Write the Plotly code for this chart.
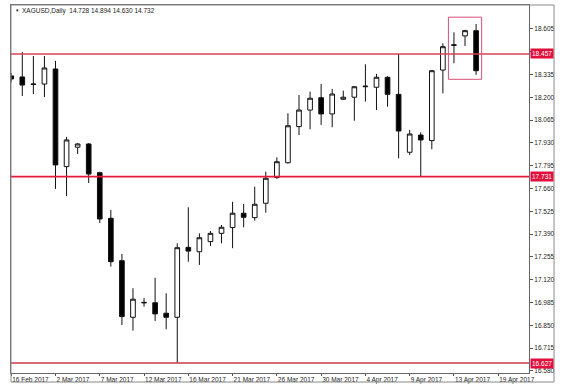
import plotly.graph_objects as go

# ---- data (bar index -1 is the partly hidden first bar) ----
bar_index = list(range(-1, 42))
opens = [18.327, 18.321, 18.276, 18.279, 18.368, 17.790, 17.905, 17.924, 17.754, 17.484,
         17.233, 16.898, 16.983, 16.984, 16.922, 16.898, 17.312, 17.286, 17.346, 17.395,
         17.429, 17.514, 17.488, 17.573, 17.725, 17.813, 18.027, 18.125, 18.198, 18.102,
         18.189, 18.201, 18.263, 18.260, 18.319, 18.218, 17.875, 17.977, 17.944, 18.362,
         18.508, 18.564, 18.595]
highs = [18.345, 18.469, 18.445, 18.445, 18.416, 17.966, 17.930, 17.930, 17.760, 17.533,
         17.273, 17.070, 17.012, 17.132, 17.040, 17.336, 17.549, 17.395, 17.409, 17.444,
         17.582, 17.569, 17.671, 17.760, 17.845, 18.106, 18.214, 18.234, 18.279, 18.250,
         18.240, 18.267, 18.396, 18.339, 18.325, 18.457, 18.007, 17.993, 18.362, 18.520,
         18.585, 18.600, 18.635]
lows = [18.290, 18.208, 18.220, 18.202, 17.658, 17.616, 17.865, 17.693, 17.456, 17.198,
        16.852, 16.819, 16.961, 16.876, 16.827, 16.627, 17.227, 17.208, 17.320, 17.336,
        17.307, 17.431, 17.470, 17.517, 17.718, 17.808, 17.977, 18.011, 18.037, 18.023,
        18.185, 18.062, 18.175, 18.125, 18.145, 17.839, 17.859, 17.731, 17.893, 18.224,
        18.402, 18.504, 18.333]
closes = [18.309, 18.273, 18.279, 18.374, 17.800, 17.948, 17.924, 17.746, 17.480, 17.227,
          16.902, 17.005, 16.986, 16.918, 16.898, 17.310, 17.290, 17.369, 17.395, 17.431,
          17.514, 17.490, 17.567, 17.721, 17.819, 18.032, 18.125, 18.195, 18.102, 18.220,
          18.201, 18.263, 18.266, 18.319, 18.218, 18.001, 17.983, 17.948, 18.358, 18.500,
          18.511, 18.595, 18.358]

levels = [18.457, 17.731, 16.627]
level_colors = ["#d8405c", "#e5193c", "#cc3a4c"]

date_tick_pos = [-1, 3, 7, 11, 15, 19, 23, 27, 31, 35, 39, 43]
date_tick_text = ["16 Feb 2017", "2 Mar 2017", "7 Mar 2017", "12 Mar 2017", "16 Mar 2017",
                  "21 Mar 2017", "26 Mar 2017", "30 Mar 2017", "4 Apr 2017", "9 Apr 2017",
                  "13 Apr 2017", "19 Apr 2017"]

price_ticks = [16.580, 16.715, 16.850, 16.985, 17.120, 17.255, 17.390, 17.525,
               17.660, 17.795, 17.930, 18.065, 18.200, 18.335, 18.470, 18.605]
# 18.470 sits behind the 18.457 level tag in the original
price_tick_text = ["" if abs(v - levels[0]) < 0.03 else f"{v:.3f}" for v in price_ticks]

title_text = "XAGUSD,Daily  14.728 14.894 14.630 14.732"

FONT = "Liberation Sans, Arial, sans-serif"
TXT = "#222222"

fig = go.Figure()
fig.add_trace(go.Candlestick(
    x=bar_index, open=opens, high=highs, low=lows, close=closes,
    increasing=dict(fillcolor="white", line=dict(color="#111111", width=1)),
    decreasing=dict(fillcolor="black", line=dict(color="#111111", width=1)),
    whiskerwidth=0, hoverinfo="skip", showlegend=False,
))

shapes = []
for lv, col in zip(levels, level_colors):
    shapes.append(dict(type="line", xref="paper", yref="y", x0=0, x1=1, y0=lv, y1=lv,
                       line=dict(color=col, width=1.6), layer="above"))

# highlight box around the last three bars
box_bars = bar_index[-3:]
shapes.append(dict(type="rect", xref="x", yref="y",
                   x0=box_bars[0] - 0.5, x1=box_bars[-1] + 0.5,
                   y0=min(lows[-3:]) - 0.026, y1=max(highs[-3:]) + 0.04,
                   line=dict(color="#d9507a", width=1), fillcolor="rgba(0,0,0,0)"))

# outer frame
shapes.append(dict(type="rect", xref="paper", yref="paper", x0=0, x1=1.0483,
                   y0=-0.0245, y1=1, line=dict(color="#8a8a8a", width=1)))

annotations = []
for lv in levels:
    annotations.append(dict(xref="paper", yref="y", x=1.0, y=lv, xanchor="left",
                            yanchor="middle", text=f"{lv:.3f}", showarrow=False,
                            font=dict(family=FONT, size=6.5, color="white"),
                            bgcolor="#e0103c", borderpad=1, xshift=1))
annotations.append(dict(xref="paper", yref="paper", x=0.0174, y=0.984, xanchor="left",
                        yanchor="middle", text=title_text, showarrow=False,
                        font=dict(family=FONT, size=6.5, color=TXT)))
annotations.append(dict(xref="paper", yref="paper", x=0.0045, y=0.984, xanchor="left",
                        yanchor="middle", text="▼", showarrow=False,
                        font=dict(family=FONT, size=4.5, color=TXT)))

fig.update_layout(
    width=566, height=389,
    margin=dict(l=11, r=37, t=5, b=16, autoexpand=False),
    paper_bgcolor="white", plot_bgcolor="white",
    boxgap=0.4,
    shapes=shapes, annotations=annotations,
    font=dict(family=FONT, size=6.5, color=TXT),
    xaxis=dict(range=[-1.02, 45.78], rangeslider=dict(visible=False),
               tickmode="array", tickvals=date_tick_pos, ticktext=date_tick_text,
               ticklabelposition="outside right", ticks="outside", ticklen=2,
               tickangle=0, automargin=False,
               tickcolor="#555", showgrid=False, zeroline=False,
               showline=True, linecolor="#666", linewidth=1, mirror=True,
               tickfont=dict(family=FONT, size=6.5, color=TXT)),
    yaxis=dict(range=[16.568, 18.747], side="right", automargin=False,
               tickmode="array", tickvals=price_ticks, ticktext=price_tick_text,
               ticks="outside", ticklen=3, tickcolor="#555",
               showgrid=False, zeroline=False,
               showline=True, linecolor="#666", linewidth=1, mirror=True,
               tickfont=dict(family=FONT, size=6.5, color=TXT)),
)

fig.write_html("out.html")
